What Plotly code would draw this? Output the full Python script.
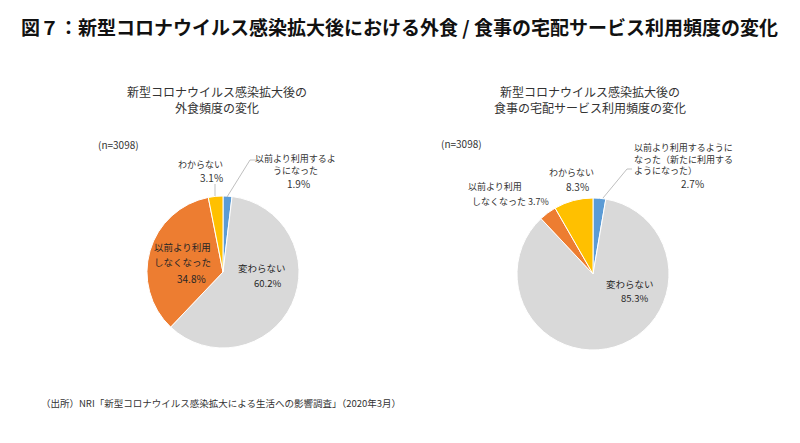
import plotly.graph_objects as go

W, H = 800, 443

categories = ["以前より利用するようになった", "変わらない", "以前より利用しなくなった", "わからない"]
values_dining = [1.9, 60.2, 34.8, 3.1]
values_delivery = [2.7, 85.3, 3.7, 8.3]
colors = ["#5B9BD5", "#D9D9D9", "#ED7D31", "#FFC000"]

title_text = "図７：新型コロナウイルス感染拡大後における外食 / 食事の宅配サービス利用頻度の変化"
sub1 = "新型コロナウイルス感染拡大後の<br>外食頻度の変化"
sub2 = "新型コロナウイルス感染拡大後の<br>食事の宅配サービス利用頻度の変化"
n_text = "(n=3098)"
source_text = "（出所）NRI「新型コロナウイルス感染拡大による生活への影響調査」（2020年3月）"

FONT = "Noto Sans CJK JP, Noto Sans, sans-serif"


def px(x):
    return x / W


def py(y):
    return 1 - y / H


def dom(cx, cy, r):
    return dict(x=[px(cx - r), px(cx + r)], y=[py(cy + r), py(cy - r)])


fig = go.Figure()
for vals, (cx, cy) in [(values_dining, (223, 272)), (values_delivery, (593, 274))]:
    fig.add_trace(go.Pie(
        labels=categories, values=vals, sort=False, direction="clockwise", rotation=0,
        marker=dict(colors=colors, line=dict(color="white", width=1)),
        textinfo="none", hoverinfo="label+percent", showlegend=False,
        domain=dom(cx, cy, 76),
    ))

ann = []


def add(text, x, y, size=10, color="#333333", bold=False, align="center", xanchor="center"):
    if bold:
        text = f"<b>{text}</b>"
    ann.append(dict(text=text, x=px(x), y=py(y), xref="paper", yref="paper",
                    xanchor=xanchor, yanchor="middle", showarrow=False, align=align,
                    borderpad=0,
                    font=dict(family=FONT, size=size, color=color)))


add(title_text, 20, 27, size=19, color="#111111", bold=True, xanchor="left", align="left")
add(sub1, 217, 99, size=12, color="#333333")
add(sub2, 590, 100, size=12, color="#333333")
add(n_text, 97, 144, size=10, xanchor="left")
add(n_text, 440, 143, size=10, xanchor="left")
add(source_text, 40, 403, size=9.5, xanchor="left")

# pie 1 labels
add("わからない", 201, 164, size=9)
add(f"{values_dining[3]}%", 211, 177, size=10)
add("以前より利用するよ<br>うになった", 295, 164, size=9)
add(f"{values_dining[0]}%", 298, 183, size=10)
add("以前より利用", 182, 247, size=9.5, color="#262626")
add("しなくなった", 182, 262, size=9.5, color="#262626")
add(f"{values_dining[2]}%", 191, 278, size=10, color="#262626")
add("変わらない", 262, 268, size=9.5, color="#262626")
add(f"{values_dining[1]}%", 267, 283, size=9.5, color="#262626")

# pie 2 labels
add("以前より利用するように<br>なった（新たに利用する<br>ようになった）", 633, 159, size=9, xanchor="left", align="left")
add(f"{values_delivery[0]}%", 692, 183, size=10)
add("わからない", 571, 173, size=9)
add(f"{values_delivery[3]}%", 577, 187, size=10)
add("以前より利用", 467, 187, size=9, xanchor="left")
add(f"しなくなった {values_delivery[2]}%", 471, 201, size=9, xanchor="left")
add("変わらない", 630, 284, size=9.5, color="#262626")
add(f"{values_delivery[1]}%", 634, 298, size=9.5, color="#262626")

line_style = dict(color="#BFBFBF", width=1)
shapes = [
    dict(type="line", xref="paper", yref="paper", x0=px(215), y0=py(184), x1=px(215), y1=py(196), line=line_style),
    dict(type="line", xref="paper", yref="paper", x0=px(256), y0=py(160), x1=px(250), y1=py(160), line=line_style),
    dict(type="line", xref="paper", yref="paper", x0=px(250), y0=py(160), x1=px(227), y1=py(197), line=line_style),
    dict(type="line", xref="paper", yref="paper", x0=px(632), y0=py(169), x1=px(627), y1=py(169), line=line_style),
    dict(type="line", xref="paper", yref="paper", x0=px(627), y0=py(169), x1=px(603), y1=py(198), line=line_style),
]

fig.update_layout(
    width=W, height=H, margin=dict(l=0, r=0, t=0, b=0),
    paper_bgcolor="white", plot_bgcolor="white",
    annotations=ann, shapes=shapes, font=dict(family=FONT),
)

fig.write_html("out.html", config={"displayModeBar": False},
               post_script="document.body.style.margin='0';")
